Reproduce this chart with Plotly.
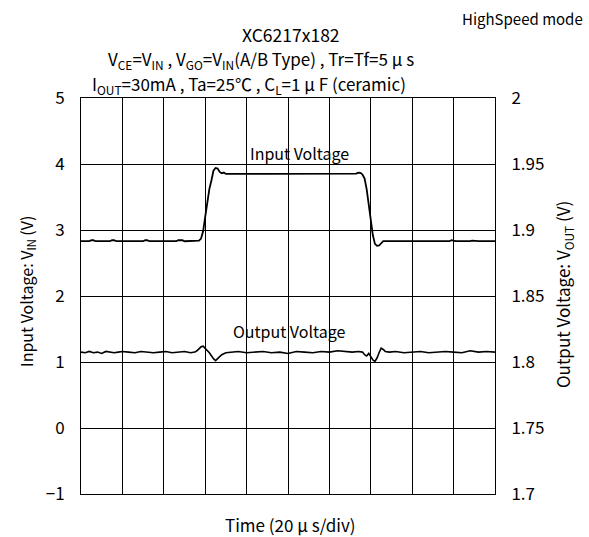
import plotly.graph_objects as go

# Input voltage trace (time in µs, voltage on left axis)
vin_t = [0, 4, 5, 6, 7, 14, 15, 16, 17, 30, 31, 32, 33, 46, 47, 48, 49, 50, 56, 57, 58, 59, 60, 61, 62, 63, 64, 65, 66, 67, 68, 69, 70, 90, 110, 130, 133, 134, 135, 136, 137, 138, 139, 140, 141, 142, 143, 144, 145, 146, 148, 152, 153, 155, 160, 161, 164, 170, 171, 172, 178, 179, 181, 188, 189, 192, 200]
vin_v = [2.83, 2.83, 2.845, 2.845, 2.83, 2.83, 2.845, 2.845, 2.83, 2.83, 2.845, 2.845, 2.83, 2.83, 2.845, 2.845, 2.845, 2.83, 2.83, 2.84, 2.87, 2.98, 3.2, 3.45, 3.62, 3.75, 3.9, 3.94, 3.93, 3.88, 3.86, 3.87, 3.85, 3.85, 3.85, 3.85, 3.855, 3.87, 3.865, 3.84, 3.78, 3.62, 3.4, 3.15, 2.92, 2.79, 2.76, 2.765, 2.805, 2.83, 2.83, 2.83, 2.825, 2.83, 2.83, 2.82, 2.83, 2.83, 2.82, 2.83, 2.83, 2.845, 2.83, 2.83, 2.84, 2.83, 2.83]

# Output voltage trace (time in µs, voltage on right axis)
vout_t = [0, 2, 4, 6, 8, 10, 12, 14, 16, 18, 20, 23, 26, 29, 32, 35, 38, 41, 44, 47, 50, 53, 55, 56, 58, 59, 60, 62, 64, 65, 66, 68, 70, 73, 76, 80, 84, 88, 92, 96, 100, 104, 108, 112, 116, 120, 124, 128, 131, 134, 136, 137, 138, 139, 140, 141, 142, 143, 144, 145, 146, 147, 149, 152, 156, 160, 164, 168, 172, 176, 180, 184, 188, 192, 196, 200]
vout_v = [1.8075, 1.807, 1.808, 1.807, 1.8075, 1.8065, 1.808, 1.8075, 1.807, 1.8075, 1.808, 1.8075, 1.807, 1.808, 1.8075, 1.807, 1.8075, 1.808, 1.807, 1.8075, 1.808, 1.807, 1.8075, 1.8085, 1.8115, 1.812, 1.8105, 1.807, 1.8025, 1.801, 1.8025, 1.8055, 1.807, 1.8075, 1.808, 1.807, 1.8075, 1.808, 1.807, 1.8075, 1.8065, 1.808, 1.8075, 1.807, 1.808, 1.8075, 1.8085, 1.808, 1.8075, 1.808, 1.8075, 1.8055, 1.8045, 1.8065, 1.804, 1.8015, 1.8005, 1.803, 1.807, 1.8105, 1.8095, 1.808, 1.8075, 1.808, 1.807, 1.8075, 1.808, 1.807, 1.8075, 1.808, 1.8075, 1.807, 1.8085, 1.8075, 1.808, 1.8075]

x_ticks = [0, 20, 40, 60, 80, 100, 120, 140, 160, 180, 200]
y_left_ticks = [-1, 0, 1, 2, 3, 4, 5]
y_right_ticks = [1.7, 1.75, 1.8, 1.85, 1.9, 1.95, 2.0]
y_right_text = ["1.7", "1.75", "1.8", "1.85", "1.9", "1.95", "2"]

FONT = "Noto Sans CJK JP"
FS = 16

fig = go.Figure()
fig.add_trace(go.Scatter(x=vin_t, y=vin_v, mode="lines",
                         line=dict(color="black", width=1.8), showlegend=False))
fig.add_trace(go.Scatter(x=vout_t, y=vout_v, mode="lines", yaxis="y2",
                         line=dict(color="black", width=1.6), showlegend=False))

fig.update_layout(
    width=589, height=537,
    margin=dict(l=81, r=94, t=98, b=43),
    paper_bgcolor="white", plot_bgcolor="white",
    font=dict(family=FONT, size=FS, color="black"),
    xaxis=dict(range=[0, 200], tickvals=x_ticks, showticklabels=False,
               showgrid=True, gridcolor="black", gridwidth=1,
               showline=True, linecolor="black", linewidth=1, mirror=True,
               zeroline=False, ticks="", automargin=False),
    yaxis=dict(range=[-1, 5], tickvals=y_left_ticks,
               showgrid=True, gridcolor="black", gridwidth=1,
               showline=True, linecolor="black", linewidth=1,
               zeroline=False, ticks="", automargin=False,
               ticklabelstandoff=12,
               tickfont=dict(size=17, color="black")),
    yaxis2=dict(range=[1.7, 2.0], tickvals=y_right_ticks, ticktext=y_right_text,
                overlaying="y", side="right", showgrid=False,
                showline=True, linecolor="black", linewidth=1,
                zeroline=False, ticks="", automargin=False,
                ticklabelstandoff=12,
                tickfont=dict(size=17, color="black")),
)

def px_x(px):
    return (px - 81) / 414.0

def px_y(py):
    return (494 - py) / 396.0

ann = [
    dict(text="HighSpeed mode", x=px_x(585), y=px_y(18), xanchor="right", size=15),
    dict(text="XC6217x182", x=px_x(291), y=px_y(35), xanchor="center", size=17.5),
    dict(text="V<sub>CE</sub>=V<sub>IN</sub> , V<sub>GO</sub>=V<sub>IN</sub>(A/B Type) , Tr=Tf=5 μ s",
         x=px_x(260.5), y=px_y(59), xanchor="center", size=17),
    dict(text="I<sub>OUT</sub>=30mA , Ta=25℃ , C<sub>L</sub>=1 μ F (ceramic)",
         x=px_x(248.5), y=px_y(85), xanchor="center", size=17),
    dict(text="Time (20 μ s/div)", x=px_x(290), y=px_y(524), xanchor="center", size=17),
    dict(text="Input Voltage: V<sub>IN</sub> (V)", x=px_x(26), y=px_y(292),
         xanchor="center", textangle=-90, size=16),
    dict(text="Output Voltage: V<sub>OUT</sub> (V)", x=px_x(563), y=px_y(295),
         xanchor="center", textangle=-90, size=17),
]
for a in ann:
    sz = a.pop("size")
    fig.add_annotation(xref="paper", yref="paper", yanchor="middle",
                       showarrow=False, font=dict(size=sz, family=FONT, color="black"), **a)

fig.add_annotation(x=80.7, y=4.17, xref="x", yref="y", text="Input Voltage",
                   showarrow=False, xanchor="left", yanchor="middle",
                   font=dict(size=FS, family=FONT, color="black"))
fig.add_annotation(x=72.5, y=1.47, xref="x", yref="y", text="Output Voltage",
                   showarrow=False, xanchor="left", yanchor="middle",
                   font=dict(size=FS, family=FONT, color="black"))

fig.write_html("out.html", config={"displayModeBar": False},
               post_script="document.body.style.margin='0';")
